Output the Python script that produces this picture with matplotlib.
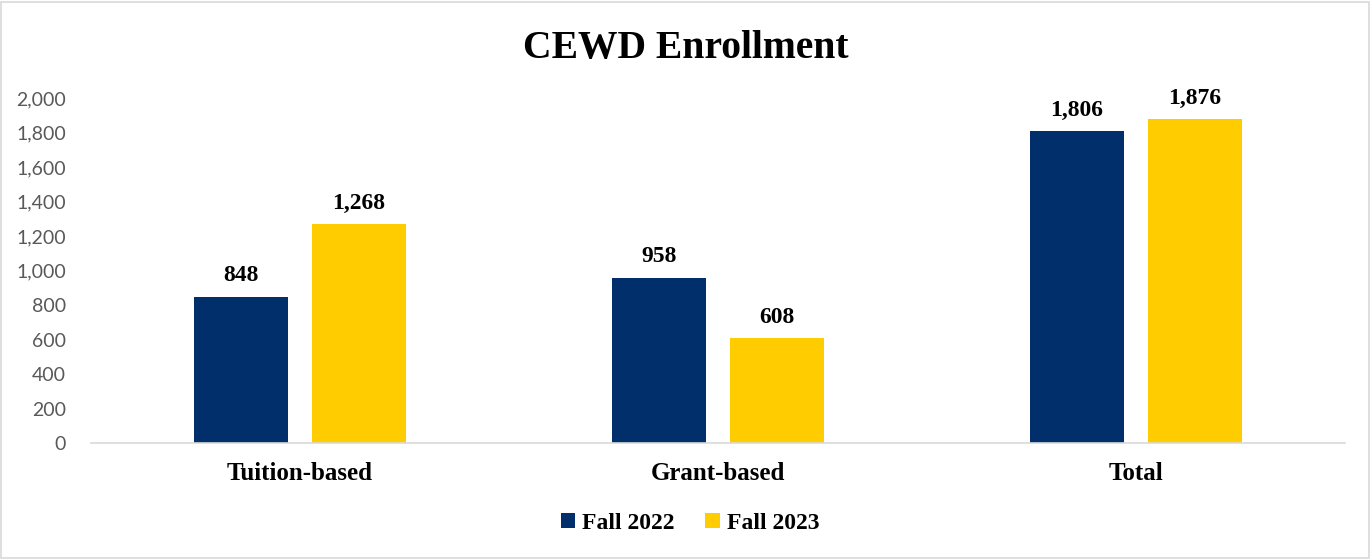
import matplotlib.pyplot as plt
import numpy as np

categories = ["Tuition-based", "Grant-based", "Total"]
fall_2022 = [848, 958, 1806]
fall_2023 = [1268, 608, 1876]
series_names = ["Fall 2022", "Fall 2023"]

BLUE = "#002f6c"
GOLD = "#ffcc00"
SERIF = "Liberation Serif"

fig = plt.figure(figsize=(13.72, 5.59), dpi=100)
ax = fig.add_axes([0.0663, 0.2075, 0.914, 0.6172])

x = np.arange(len(categories))
w = 0.225
off = 0.1415
b1 = ax.bar(x - off, fall_2022, w, color=BLUE, label=series_names[0])
b2 = ax.bar(x + off, fall_2023, w, color=GOLD, label=series_names[1])

for bars in (b1, b2):
    for r in bars:
        ax.text(r.get_x() + r.get_width() / 2, r.get_height() + 60, f"{int(r.get_height()):,}",
                ha="center", va="bottom", fontsize=17, fontweight="bold", family=SERIF)

ax.set_xlim(-0.5, 2.5)
ax.set_ylim(0, 2000)
ax.set_yticks(range(0, 2001, 200))
ax.set_yticklabels([f"{v:,}" for v in range(0, 2001, 200)], fontsize=14, color="#595959", family="Lato")
ax.set_xticks(x)
ax.set_xticklabels(categories, fontsize=18, fontweight="bold", family=SERIF)
ax.tick_params(axis="both", length=0)
ax.tick_params(axis="x", pad=14)
ax.tick_params(axis="y", pad=18)
for s in ["top", "right", "left"]:
    ax.spines[s].set_visible(False)
ax.spines["bottom"].set_color("#d9d9d9")
ax.spines["bottom"].set_linewidth(1.2)

fig.text(0.5, 0.913, "CEWD Enrollment", ha="center", va="center", fontsize=28.5,
         fontweight="bold", family=SERIF)

fig.legend(handles=[b1, b2], loc="center", bbox_to_anchor=(0.503, 0.064), ncol=2, frameon=False,
           prop={"family": SERIF, "weight": "bold", "size": 17}, handlelength=0.6, handleheight=0.6,
           handletextpad=0.3, columnspacing=1.3)

border = plt.Rectangle((0.001, 0.002), 0.997, 0.995, transform=fig.transFigure, fill=False,
                       edgecolor="#d9d9d9", linewidth=1.2)
fig.patches.append(border)

fig.savefig("out.png", dpi=100)
